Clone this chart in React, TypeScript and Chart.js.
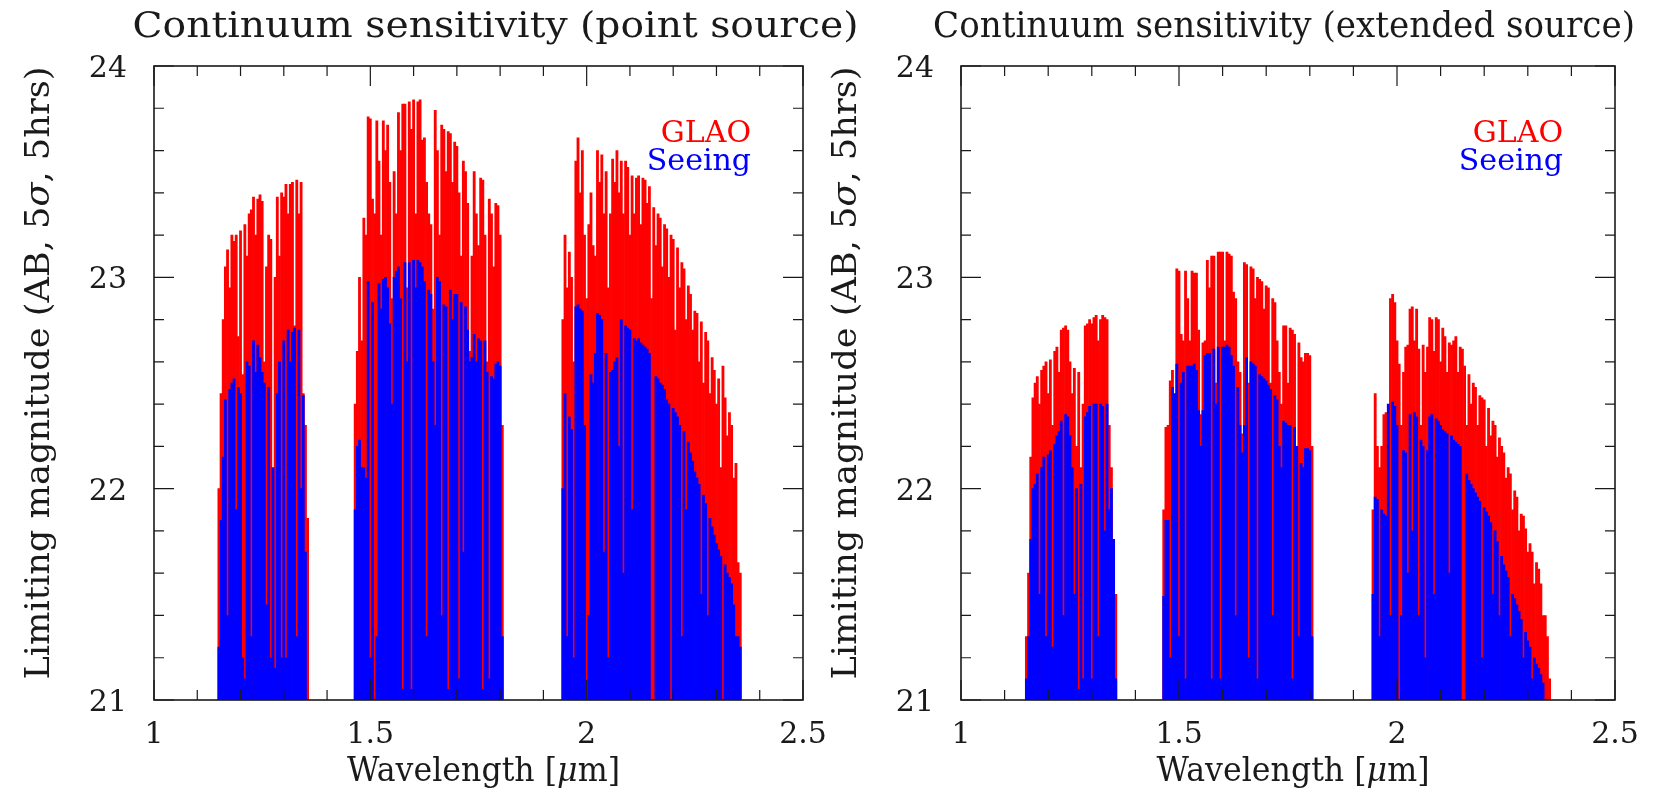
import React, { useEffect, useRef } from "react";
import { Chart, registerables } from "chart.js";

Chart.register(...registerables);

const FONT = '"DejaVu Serif", serif';

// ---------- wavelength grids (micron) ----------
const WL_J = [
  1.150, 1.155, 1.160, 1.165, 1.170, 1.175, 1.180, 1.185, 1.190, 1.195,
  1.200, 1.205, 1.210, 1.215, 1.220, 1.225, 1.230, 1.235, 1.240, 1.245,
  1.250, 1.255, 1.260, 1.265, 1.270, 1.275, 1.280, 1.285, 1.290, 1.295,
  1.300, 1.305, 1.310, 1.315, 1.320, 1.325, 1.330, 1.335, 1.340, 1.345,
  1.350, 1.355,
];
const WL_H = [
  1.465, 1.470, 1.475, 1.480, 1.485, 1.490, 1.495, 1.500, 1.505, 1.510,
  1.515, 1.520, 1.525, 1.530, 1.535, 1.540, 1.545, 1.550, 1.555, 1.560,
  1.565, 1.570, 1.575, 1.580, 1.585, 1.590, 1.595, 1.600, 1.605, 1.610,
  1.615, 1.620, 1.625, 1.630, 1.635, 1.640, 1.645, 1.650, 1.655, 1.660,
  1.665, 1.670, 1.675, 1.680, 1.685, 1.690, 1.695, 1.700, 1.705, 1.710,
  1.715, 1.720, 1.725, 1.730, 1.735, 1.740, 1.745, 1.750, 1.755, 1.760,
  1.765, 1.770, 1.775, 1.780, 1.785, 1.790, 1.795, 1.800, 1.805,
];
const WL_K = [
  1.945, 1.950, 1.955, 1.960, 1.965, 1.970, 1.975, 1.980, 1.985, 1.990,
  1.995, 2.000, 2.005, 2.010, 2.015, 2.020, 2.025, 2.030, 2.035, 2.040,
  2.045, 2.050, 2.055, 2.060, 2.065, 2.070, 2.075, 2.080, 2.085, 2.090,
  2.095, 2.100, 2.105, 2.110, 2.115, 2.120, 2.125, 2.130, 2.135, 2.140,
  2.145, 2.150, 2.155, 2.160, 2.165, 2.170, 2.175, 2.180, 2.185, 2.190,
  2.195, 2.200, 2.205, 2.210, 2.215, 2.220, 2.225, 2.230, 2.235, 2.240,
  2.245, 2.250, 2.255, 2.260, 2.265, 2.270, 2.275, 2.280, 2.285, 2.290,
  2.295, 2.300, 2.305, 2.310, 2.315, 2.320, 2.325, 2.330, 2.335, 2.340,
  2.345, 2.350, 2.355,
];

// ---------- point source: GLAO ----------
const POINT_GLAO_J = [
  22.0, 22.45, 22.8, 23.05, 23.13, 22.95, 23.2, 23.17, 23.2, 22.72,
  23.22, 22.54, 23.25, 23.1, 23.3, 23.32, 23.38, 23.2, 23.37, 23.39,
  23.36, 22.6, 23.05, 23.2, 23.18, 21.94, 23.0, 23.38, 23.1, 23.4,
  23.38, 23.44, 23.3, 23.44, 23.45, 22.77, 23.46, 23.3, 23.45, 22.45,
  22.3, 21.86,
];
const POINT_GLAO_H = [
  22.4, 22.65, 23.0, 22.7, 23.28, 23.2, 23.76, 23.75, 23.37, 23.3,
  23.74, 23.55, 23.2, 23.74, 23.6, 23.72, 23.45, 22.9, 23.5, 23.3,
  23.78, 23.6, 23.82, 23.82, 22.95, 23.83, 23.7, 23.84, 23.3, 23.83,
  23.84, 23.65, 23.66, 23.45, 23.3, 23.25, 22.85, 23.79, 23.6, 23.2,
  23.72, 23.7, 23.5, 23.69, 23.68, 23.45, 23.64, 23.62, 23.4, 23.1,
  23.55, 23.5, 23.35, 22.65, 23.1, 23.5, 23.3, 23.15, 23.47, 23.46,
  23.2, 22.6, 23.37, 23.3, 23.05, 23.35, 23.34, 23.2, 22.3,
];
const POINT_GLAO_K = [
  22.8, 23.2, 22.95, 23.12, 23.0, 22.6, 23.55, 23.66, 23.4, 23.6,
  23.2, 22.9, 23.25, 23.4, 23.15, 23.1, 23.6, 23.45, 23.58, 23.3,
  23.5, 22.95, 23.3, 23.56, 23.45, 23.6, 23.4, 23.55, 23.3, 23.55,
  23.52, 23.2, 23.48, 23.3, 23.47, 23.48, 23.25, 23.47, 23.46, 23.35,
  23.43, 22.9, 23.33, 23.15, 23.3, 23.28, 23.05, 23.25, 23.23, 23.0,
  23.2, 23.18, 22.75, 23.14, 22.95, 23.07, 23.04, 22.8, 22.96, 22.92,
  22.75, 22.84, 22.83, 22.6, 22.79, 22.5, 22.74, 22.7, 22.45, 22.62,
  22.56, 22.4, 22.52, 22.1, 22.58, 22.43, 22.25, 22.36, 22.3, 22.05,
  22.12, 21.65, 21.6,
];

// ---------- point source: Seeing ----------
const POINT_SEEING_J = [
  21.25, 21.85, 22.15, 22.42, 21.4, 22.47, 22.5, 22.52, 21.9, 22.48,
  22.45, 21.2, 21.1, 22.6, 22.58, 21.3, 22.7, 22.55, 22.68, 22.62,
  22.55, 22.5, 21.45, 22.48, 21.2, 22.1, 21.15, 22.45, 22.6, 21.2,
  22.7, 21.2, 22.75, 22.6, 22.74, 22.76, 21.3, 22.75, 22.0, 22.44,
  21.7, 21.0,
];
const POINT_SEEING_H = [
  21.9, 22.2, 22.23, 22.1, 22.1, 22.05, 22.98, 21.2, 22.88, 21.0,
  21.3, 22.97, 22.85, 22.99, 23.0, 22.95, 22.78, 22.4, 23.0, 23.03,
  23.05, 22.9, 21.05, 23.07, 22.6, 23.07, 21.05, 23.08, 22.95, 23.08,
  23.07, 23.05, 22.98, 21.3, 22.94, 22.92, 22.6, 22.3, 23.0, 22.98,
  21.4, 22.87, 22.86, 21.05, 22.94, 22.8, 22.92, 22.92, 21.1, 22.88,
  21.7, 22.86, 22.75, 22.6, 22.62, 22.73, 22.6, 22.71, 22.7, 21.05,
  22.7, 22.55, 21.1, 22.53, 22.52, 22.59, 22.6, 22.58, 21.3,
];
const POINT_SEEING_K = [
  22.0, 22.45, 21.3, 22.34, 22.28, 21.2, 22.86, 22.87, 22.85, 22.84,
  22.3, 21.0, 21.4, 22.54, 22.5, 22.64, 22.83, 22.82, 22.8, 21.7,
  22.64, 21.2, 22.55, 22.56, 22.6, 22.62, 22.2, 22.8, 21.6, 22.77,
  22.76, 22.75, 21.9, 22.71, 22.7, 22.71, 22.69, 22.68, 22.67, 22.66,
  22.64, 21.0, 21.0, 22.53, 22.52, 22.5, 22.49, 22.47, 22.42, 22.4,
  21.0, 22.38, 22.36, 22.34, 22.3, 21.3, 22.27, 21.9, 22.22, 22.17,
  22.13, 22.08, 22.05, 22.02, 21.5, 21.97, 21.93, 21.4, 21.86, 21.82,
  21.78, 21.74, 21.71, 21.68, 21.0, 21.64, 21.6, 21.58, 21.55, 21.45,
  21.3, 21.3, 21.25,
];

// ---------- extended source: GLAO ----------
const EXT_GLAO_J = [
  21.3, 21.6, 22.15, 22.43, 22.5, 22.53, 22.4, 22.56, 22.58, 22.6,
  22.45, 22.61, 22.3, 22.65, 22.67, 22.55, 22.75, 22.76, 22.77, 22.75,
  22.6, 22.45, 22.57, 22.2, 22.55, 22.1, 22.4, 22.77, 22.78, 22.8,
  22.78, 22.81, 22.82, 22.7, 22.8, 22.82, 22.81, 22.8, 22.3, 22.1,
  21.75, 21.5,
];
const EXT_GLAO_H = [
  21.9, 22.29, 22.3, 22.51, 22.56, 22.4, 23.04, 23.03, 22.73, 22.7,
  23.03, 22.9, 22.7, 23.03, 23.02, 23.02, 22.75, 22.35, 22.69, 22.7,
  23.08, 22.95, 23.1, 23.1, 22.5, 23.12, 23.12, 23.12, 22.7, 23.12,
  23.11, 23.1, 22.93, 22.9, 22.6, 22.55, 22.26, 23.07, 23.06, 22.5,
  23.05, 23.04, 22.9, 23.0, 22.99, 22.98, 22.85, 22.96, 22.95, 22.5,
  22.9, 22.88, 22.7, 22.55, 22.4, 22.77, 22.77, 22.5, 22.76, 22.75,
  22.73, 22.2, 22.69, 22.62, 22.6, 22.64, 22.64, 22.63, 22.2,
];
const EXT_GLAO_K = [
  21.9, 22.45, 22.2, 22.1, 22.2, 22.35, 22.36, 22.0, 22.9, 22.92,
  22.88, 22.7, 22.59, 22.3, 22.55, 22.67, 22.68, 22.85, 22.86, 22.7,
  22.85, 22.66, 22.3, 22.68, 22.55, 22.67, 22.81, 22.8, 22.65, 22.81,
  22.8, 22.6, 22.76, 22.72, 22.55, 22.69, 22.68, 22.7, 22.72, 22.55,
  22.67, 22.66, 22.58, 22.3, 22.54, 22.4, 22.5, 22.48, 22.3, 22.44,
  22.43, 22.42, 22.2, 22.38, 22.25, 22.32, 22.3, 22.15, 22.24, 22.2,
  22.17, 22.05, 22.1, 22.07, 21.9, 21.99, 21.96, 21.8, 21.88, 21.87,
  21.81, 21.7, 21.74, 21.7, 21.55, 21.65, 21.62, 21.55, 21.4, 21.4,
  21.3, 21.1, 20.9,
];

// ---------- extended source: Seeing ----------
const EXT_SEEING_J = [
  21.1, 21.3, 21.76, 22.0, 22.02, 22.07, 21.5, 22.1, 22.15, 21.3,
  22.16, 22.18, 21.25, 22.21, 22.25, 22.27, 22.32, 21.4, 22.35, 22.34,
  22.25, 22.1, 21.5, 22.0, 21.05, 22.02, 21.1, 22.34, 22.36, 22.39,
  21.1, 22.4, 22.4, 21.3, 22.4, 22.39, 21.8, 22.4, 21.9, 22.0,
  21.76, 21.1,
];
const EXT_SEEING_H = [
  21.49, 21.85, 21.85, 21.2, 22.48, 22.45, 22.59, 21.3, 22.5, 22.55,
  21.1, 22.58, 22.58, 22.58, 22.59, 22.56, 22.37, 22.2, 22.37, 22.63,
  22.64, 22.64, 21.1, 22.66, 22.4, 22.67, 21.1, 22.67, 22.67, 22.68,
  22.67, 22.63, 22.58, 21.4, 22.48, 22.3, 22.17, 22.3, 22.62, 21.2,
  22.6, 22.59, 22.58, 21.1, 22.54, 22.53, 22.52, 22.51, 22.49, 22.47,
  21.4, 22.44, 22.42, 22.2, 22.1, 22.32, 22.31, 22.3, 22.3, 21.1,
  22.29, 22.2, 21.3, 22.12, 22.1, 22.19, 22.19, 22.18, 21.3,
];
const EXT_SEEING_K = [
  21.5, 21.96, 21.95, 21.3, 21.9, 21.88, 21.87, 22.4, 21.4, 22.41,
  22.39, 22.3, 21.0, 21.4, 22.18, 22.17, 21.6, 22.35, 21.8, 22.36,
  22.34, 21.4, 22.23, 22.2, 21.2, 22.18, 22.34, 22.35, 21.5, 22.33,
  22.32, 22.3, 22.28, 22.27, 22.26, 21.6, 22.25, 22.23, 22.22, 22.21,
  22.2, 21.0, 21.0, 22.07, 22.04, 22.02, 22.0, 21.98, 21.96, 21.94,
  21.2, 21.91, 21.89, 21.87, 21.84, 21.5, 21.8, 21.75, 21.4, 21.68,
  21.64, 21.61, 21.58, 21.3, 21.5, 21.48, 21.45, 21.42, 21.38, 21.2,
  21.32, 21.28, 21.25, 21.1, 21.2, 21.17, 21.15, 21.12, 21.08, 21.0,
  20.9, 20.9, 20.9,
];

// ---------- axes ----------
const X_MAJOR = [1, 1.5, 2, 2.5];
const X_LABELS = ["1", "1.5", "2", "2.5"];
const X_MINOR = [1.1, 1.2, 1.3, 1.4, 1.6, 1.7, 1.8, 1.9, 2.1, 2.2, 2.3, 2.4];
const Y_MAJOR = [21, 22, 23, 24];
const Y_LABELS = ["21", "22", "23", "24"];
const Y_MINOR = [21.2, 21.4, 21.6, 21.8, 22.2, 22.4, 22.6, 22.8, 23.2, 23.4, 23.6, 23.8];

type Seg = { t: string; italic?: boolean };
const Y_TITLE: Seg[] = [{ t: "Limiting magnitude (AB, 5" }, { t: "σ", italic: true }, { t: ", 5hrs)" }];
const X_TITLE: Seg[] = [{ t: "Wavelength [" }, { t: "μ", italic: true }, { t: "m]" }];
const SERIES_NAMES = ["GLAO", "Seeing"];
const SERIES_COLORS = ["#ff0000", "#0000ff"];

function toPoints(j: number[], h: number[], k: number[]) {
  const out: { x: number; y: number }[] = [];
  WL_J.forEach((x, i) => out.push({ x, y: j[i] }));
  WL_H.forEach((x, i) => out.push({ x, y: h[i] }));
  WL_K.forEach((x, i) => out.push({ x, y: k[i] }));
  return out;
}

function drawRich(
  ctx: CanvasRenderingContext2D,
  segs: Seg[],
  x: number,
  y: number,
  align: string,
  size: number,
  target?: number
) {
  const widths: number[] = [];
  let total = 0;
  segs.forEach((s) => {
    ctx.font = `${s.italic ? "italic " : ""}${size}px ${FONT}`;
    const w = ctx.measureText(s.t).width;
    widths.push(w);
    total += w;
  });
  const sx = target ? target / total : 1;
  const full = total * sx;
  const start = align === "center" ? x - full / 2 : align === "right" ? x - full : x;
  ctx.save();
  ctx.translate(start, y);
  ctx.scale(sx, 1);
  ctx.textAlign = "left";
  let cx = 0;
  segs.forEach((s, i) => {
    ctx.font = `${s.italic ? "italic " : ""}${size}px ${FONT}`;
    ctx.fillText(s.t, cx, 0);
    cx += widths[i];
  });
  ctx.restore();
}

function makePlugin(title: string, titleDx: number, titleWidth: number) {
  return {
    id: "frameAndText",
    afterDatasetsDraw(chart: any) {
      const ctx: CanvasRenderingContext2D = chart.ctx;
      const a = chart.chartArea;
      const xs = chart.scales.x;
      const ys = chart.scales.y;
      ctx.save();
      ctx.strokeStyle = "#1a1a1a";
      ctx.lineWidth = 1.2;
      ctx.beginPath();
      const tx = (v: number, len: number) => {
        const p = xs.getPixelForValue(v);
        ctx.moveTo(p, a.bottom);
        ctx.lineTo(p, a.bottom - len);
        ctx.moveTo(p, a.top);
        ctx.lineTo(p, a.top + len);
      };
      const ty = (v: number, len: number) => {
        const p = ys.getPixelForValue(v);
        ctx.moveTo(a.left, p);
        ctx.lineTo(a.left + len, p);
        ctx.moveTo(a.right, p);
        ctx.lineTo(a.right - len, p);
      };
      X_MINOR.forEach((v) => tx(v, 10));
      X_MAJOR.forEach((v) => tx(v, 20));
      Y_MINOR.forEach((v) => ty(v, 10));
      Y_MAJOR.forEach((v) => ty(v, 20));
      ctx.stroke();
      ctx.lineWidth = 1.6;
      ctx.strokeRect(a.left, a.top, a.right - a.left, a.bottom - a.top);
      ctx.restore();

      ctx.save();
      ctx.fillStyle = "#1a1a1a";
      ctx.textBaseline = "alphabetic";
      ctx.font = `30px ${FONT}`;
      ctx.textAlign = "center";
      X_MAJOR.forEach((v, i) => {
        ctx.fillText(X_LABELS[i], xs.getPixelForValue(v), a.bottom + 43);
      });
      ctx.textAlign = "right";
      Y_MAJOR.forEach((v, i) => {
        ctx.fillText(Y_LABELS[i], a.left - 27, ys.getPixelForValue(v) + 11);
      });
      drawRich(ctx, [{ t: title }], (a.left + a.right) / 2 + titleDx, 37, "center", 35, titleWidth);
      drawRich(ctx, X_TITLE, (a.left + a.right) / 2 + 5, 781, "center", 33, 273);
      ctx.save();
      ctx.translate(a.left - 105, 373);
      ctx.rotate(-Math.PI / 2);
      drawRich(ctx, Y_TITLE, 0, 0, "center", 33, 613);
      ctx.restore();
      SERIES_NAMES.forEach((n, i) => {
        ctx.fillStyle = SERIES_COLORS[i];
        drawRich(ctx, [{ t: n }], a.right - 52, 142 + i * 28, "right", 30);
      });
      ctx.restore();
    },
  };
}

type PanelProps = {
  left: number;
  width: number;
  padLeft: number;
  padRight: number;
  title: string;
  titleDx: number;
  titleWidth: number;
  glao: { x: number; y: number }[];
  seeing: { x: number; y: number }[];
};

function Panel(p: PanelProps) {
  const ref = useRef<HTMLCanvasElement>(null);
  useEffect(() => {
    const canvas = ref.current;
    if (!canvas) return;
    const chart = new Chart(canvas, {
      type: "bar",
      data: {
        datasets: [
          {
            label: SERIES_NAMES[1],
            data: p.seeing as any,
            backgroundColor: SERIES_COLORS[1],
            borderWidth: 0,
            grouped: false,
            order: 1,
            clip: 0,
            barPercentage: 1,
            categoryPercentage: 1,
          } as any,
          {
            label: SERIES_NAMES[0],
            data: p.glao as any,
            backgroundColor: SERIES_COLORS[0],
            borderWidth: 0,
            grouped: false,
            order: 2,
            clip: 0,
            barPercentage: 1,
            categoryPercentage: 1,
          } as any,
        ],
      },
      options: {
        responsive: false,
        animation: false,
        devicePixelRatio: 1,
        layout: { padding: { left: p.padLeft, right: p.padRight, top: 66, bottom: 93 } },
        plugins: { legend: { display: false }, title: { display: false }, tooltip: { enabled: false } },
        scales: {
          x: { type: "linear", min: 1, max: 2.5, display: false, offset: false },
          y: { type: "linear", min: 21, max: 24, display: false },
        },
      } as any,
      plugins: [makePlugin(p.title, p.titleDx, p.titleWidth)],
    });
    return () => chart.destroy();
  }, []);
  return (
    <canvas
      ref={ref}
      width={p.width}
      height={793}
      style={{ position: "absolute", left: p.left, top: 0, width: p.width, height: 793 }}
    />
  );
}

export default function App() {
  return (
    <div style={{ position: "absolute", left: 0, top: 0, width: 1663, height: 793, background: "#fff" }}>
      <Panel
        left={0}
        width={880}
        padLeft={154}
        padRight={77}
        title="Continuum sensitivity (point source)"
        titleDx={17}
        titleWidth={726}
        glao={toPoints(POINT_GLAO_J, POINT_GLAO_H, POINT_GLAO_K)}
        seeing={toPoints(POINT_SEEING_J, POINT_SEEING_H, POINT_SEEING_K)}
      />
      <Panel
        left={800}
        width={863}
        padLeft={161}
        padRight={48}
        title="Continuum sensitivity (extended source)"
        titleDx={-4}
        titleWidth={702}
        glao={toPoints(EXT_GLAO_J, EXT_GLAO_H, EXT_GLAO_K)}
        seeing={toPoints(EXT_SEEING_J, EXT_SEEING_H, EXT_SEEING_K)}
      />
    </div>
  );
}
